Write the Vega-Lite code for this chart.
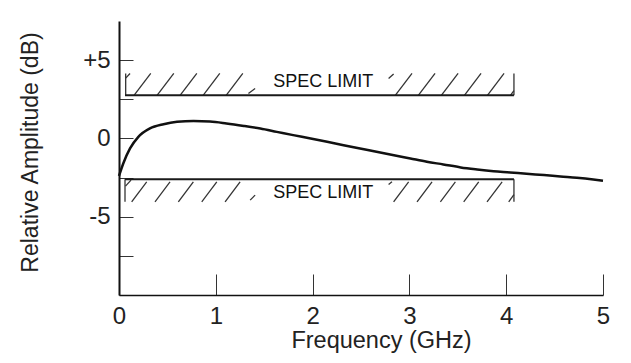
{
  "$schema": "https://vega.github.io/schema/vega-lite/v6.json",
  "width": 484,
  "height": 274,
  "autosize": {"type": "none"},
  "padding": {"left": 119, "top": 21, "right": 28, "bottom": 68},
  "background": "white",
  "config": {"view": {"stroke": null}, "font": "Liberation Sans", "axis": {"grid": false}},
  "datasets": {
    "curve": [
      {"x": 0.0, "y": -2.4}, {"x": 0.044, "y": -1.6}, {"x": 0.114, "y": -0.64}, {"x": 0.2, "y": 0.1},
      {"x": 0.32, "y": 0.64}, {"x": 0.46, "y": 0.91}, {"x": 0.6, "y": 1.06}, {"x": 0.77, "y": 1.11},
      {"x": 0.94, "y": 1.08}, {"x": 1.11, "y": 0.96}, {"x": 1.29, "y": 0.8}, {"x": 1.46, "y": 0.63},
      {"x": 1.63, "y": 0.42}, {"x": 1.8, "y": 0.21}, {"x": 1.98, "y": 0.0}, {"x": 2.15, "y": -0.21},
      {"x": 2.32, "y": -0.43}, {"x": 2.49, "y": -0.64}, {"x": 2.66, "y": -0.85}, {"x": 2.84, "y": -1.07},
      {"x": 3.01, "y": -1.28}, {"x": 3.18, "y": -1.49}, {"x": 3.35, "y": -1.66}, {"x": 3.53, "y": -1.85},
      {"x": 3.7, "y": -1.98}, {"x": 3.87, "y": -2.09}, {"x": 4.04, "y": -2.17}, {"x": 4.21, "y": -2.26},
      {"x": 4.39, "y": -2.34}, {"x": 4.56, "y": -2.43}, {"x": 4.73, "y": -2.51}, {"x": 4.9, "y": -2.62},
      {"x": 5.0, "y": -2.7}
    ],
    "limits": [
      {"x": 0.062, "y": 2.75, "x2": 4.08, "y2": 2.75},
      {"x": 0.062, "y": -2.6, "x2": 4.08, "y2": -2.6}
    ],
    "hatch": [
      {"x": 0.069, "y": 2.75, "x2": 0.069, "y2": 4.15},
      {"x": 0.069, "y": 3.85, "x2": 0.114, "y2": 4.15},
      {"x": 0.155, "y": 2.75, "x2": 0.328, "y2": 4.15},
      {"x": 0.393, "y": 2.75, "x2": 0.566, "y2": 4.15},
      {"x": 0.631, "y": 2.75, "x2": 0.804, "y2": 4.15},
      {"x": 0.869, "y": 2.75, "x2": 1.041, "y2": 4.15},
      {"x": 1.107, "y": 2.75, "x2": 1.279, "y2": 4.15},
      {"x": 1.337, "y": 2.87, "x2": 1.406, "y2": 3.19},
      {"x": 2.785, "y": 3.83, "x2": 2.837, "y2": 4.11},
      {"x": 2.854, "y": 2.75, "x2": 3.027, "y2": 4.15},
      {"x": 3.092, "y": 2.75, "x2": 3.265, "y2": 4.15},
      {"x": 3.33, "y": 2.75, "x2": 3.503, "y2": 4.15},
      {"x": 3.568, "y": 2.75, "x2": 3.74, "y2": 4.15},
      {"x": 3.806, "y": 2.75, "x2": 3.978, "y2": 4.15},
      {"x": 4.044, "y": 2.75, "x2": 4.08, "y2": 3.05},
      {"x": 4.08, "y": 2.75, "x2": 4.08, "y2": 4.15},
      {"x": 0.062, "y": -2.6, "x2": 0.062, "y2": -4.05},
      {"x": 0.067, "y": -3.05, "x2": 0.124, "y2": -2.66},
      {"x": 0.131, "y": -4.05, "x2": 0.286, "y2": -2.77},
      {"x": 0.372, "y": -4.05, "x2": 0.527, "y2": -2.77},
      {"x": 0.613, "y": -4.05, "x2": 0.768, "y2": -2.77},
      {"x": 0.855, "y": -4.05, "x2": 1.01, "y2": -2.77},
      {"x": 1.096, "y": -4.05, "x2": 1.251, "y2": -2.77},
      {"x": 1.355, "y": -3.94, "x2": 1.406, "y2": -3.62},
      {"x": 2.785, "y": -2.94, "x2": 2.82, "y2": -2.77},
      {"x": 2.837, "y": -4.05, "x2": 2.992, "y2": -2.77},
      {"x": 3.079, "y": -4.05, "x2": 3.234, "y2": -2.77},
      {"x": 3.32, "y": -4.05, "x2": 3.475, "y2": -2.77},
      {"x": 3.561, "y": -4.05, "x2": 3.716, "y2": -2.77},
      {"x": 3.802, "y": -4.05, "x2": 3.958, "y2": -2.77},
      {"x": 4.026, "y": -4.05, "x2": 4.08, "y2": -3.59},
      {"x": 4.08, "y": -2.6, "x2": 4.08, "y2": -4.05}
    ],
    "labels": [
      {"x": 2.11, "y": 3.6, "text": "SPEC LIMIT"},
      {"x": 2.11, "y": -3.49, "text": "SPEC LIMIT"}
    ]
  },
  "encoding": {
    "x": {
      "field": "x", "type": "quantitative",
      "scale": {"domain": [0, 5], "nice": false, "zero": false},
      "axis": {
        "title": "Frequency (GHz)",
        "values": [0, 1, 2, 3, 4, 5],
        "format": "d",
        "domainColor": "#111", "domainWidth": 1.5,
        "tickColor": "#333", "tickWidth": 1, "tickSize": -21,
        "labelFontSize": 24, "labelColor": "#222", "labelBaseline": "alphabetic",
        "labelPadding": 49, "labelFlush": false,
        "titleFontSize": 23.5, "titleFontWeight": "normal", "titleColor": "#222",
        "titleX": 262, "titleY": 52, "titleBaseline": "alphabetic", "titleAlign": "center"
      }
    },
    "y": {
      "field": "y", "type": "quantitative",
      "scale": {"domain": [-10, 7.5], "nice": false, "zero": false},
      "axis": {
        "title": "Relative Amplitude (dB)",
        "values": [-7.5, -5, -2.5, 0, 2.5, 5],
        "labelExpr": "datum.value == 5 ? '+5' : (datum.value == 0 ? '0' : (datum.value == -5 ? '-5' : ''))",
        "domainColor": "#111", "domainWidth": 2,
        "tickColor": "#333", "tickWidth": 1, "tickSize": -14,
        "labelFontSize": 24, "labelColor": "#222", "labelPadding": 23, "labelFlush": false,
        "titleFontSize": 23, "titleFontWeight": "normal", "titleColor": "#222",
        "titleX": -82, "titleY": 131, "titleBaseline": "alphabetic", "titleAlign": "center", "titleAngle": -90
      }
    }
  },
  "layer": [
    {
      "data": {"name": "hatch"},
      "mark": {"type": "rule", "color": "#333", "strokeWidth": 1.3},
      "encoding": {"x2": {"field": "x2"}, "y2": {"field": "y2"}}
    },
    {
      "data": {"name": "limits"},
      "mark": {"type": "rule", "color": "#1a1a1a", "strokeWidth": 2},
      "encoding": {"x2": {"field": "x2"}, "y2": {"field": "y2"}}
    },
    {
      "data": {"name": "curve"},
      "mark": {"type": "line", "interpolate": "monotone", "color": "#111", "strokeWidth": 2.5},
      "encoding": {}
    },
    {
      "data": {"name": "labels"},
      "mark": {"type": "text", "fontSize": 18, "font": "Liberation Sans", "color": "#111", "baseline": "middle", "align": "center"},
      "encoding": {"text": {"field": "text"}}
    }
  ]
}
